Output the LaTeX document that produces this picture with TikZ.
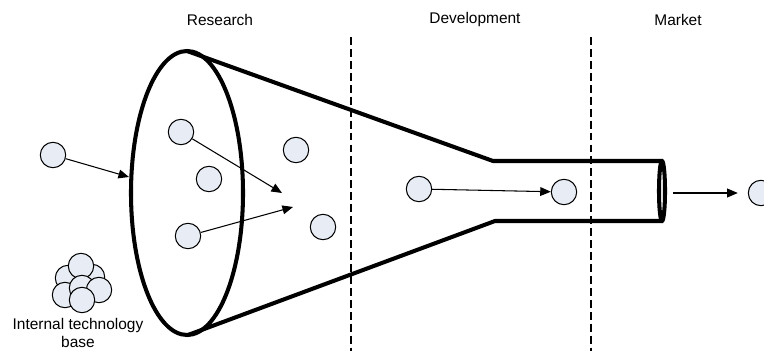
\documentclass[tikz,border=0pt]{standalone}
\usepackage{fontspec}
\setmainfont{Liberation Sans}
\usetikzlibrary{arrows.meta}
\definecolor{dotfill}{HTML}{E8EDF5}
\tikzset{
  dot/.style={circle,draw,fill=dotfill,line width=0.6pt,minimum size=0.508cm,inner sep=0pt},
  arr/.style={-{Triangle[length=6pt,width=5pt]},line width=0.6pt},
  funnel/.style={line width=2.3pt,line join=round},
  stage/.style={font=\fontsize{8.8}{10.4}\selectfont,inner sep=0pt}
}
\begin{document}
\begin{tikzpicture}[x=0.02cm,y=-0.02cm]
        \useasboundingbox (0,0) rectangle (764,351);

        % Stage boundaries
        \draw[line width=0.85pt,dash pattern=on 4.5pt off 2.3pt] (351,37) -- (351,351);
        \draw[line width=0.85pt,dash pattern=on 4.5pt off 2.3pt] (591,37) -- (591,351);
        \node[stage] (research) at (220,20) {Research};
        \node[stage] (development) at (475,20) {Development};
        \node[stage] (market) at (678,20) {Market};

        % Funnel
        \draw[funnel] (187,193) ellipse [x radius=56,y radius=142];
        \draw[funnel] (187,51) -- (493,161) -- (663,161);
        \draw[funnel] (188,335) -- (495,221) -- (663,221);
        \draw[funnel] (662,191) ellipse [x radius=3,y radius=30];

        % Ideas
        \node[dot] (o1) at (53,155) {};
        \node[dot] (r1) at (181,132) {};
        \node[dot] (r2) at (209,179) {};
        \node[dot] (r3) at (188,236) {};
        \node[dot] (r4) at (296,150) {};
        \node[dot] (r5) at (323,227) {};
        \node[dot] (d1) at (419,189) {};
        \node[dot] (d2) at (564,192) {};
        \node[dot] (mk) at (761,193) {};

        % Flows
        \coordinate (mouth) at (129,177);
        \coordinate (t1) at (282,193);
        \coordinate (t2) at (293,207);
        \coordinate (tubeout) at (673,193);
        \draw[arr] (o1) -- (mouth);
        \draw[arr] (r1) -- (t1);
        \draw[arr] (r3) -- (t2);
        \draw[arr] (d1) -- (d2);
        \draw[arr,shorten >=0.2cm] (tubeout) -- (mk);

        % Internal technology base
        \node[dot] (b1) at (92,277) {};
        \node[dot] (b2) at (68,278) {};
        \node[dot] (b3) at (81,266) {};
        \node[dot] (b4) at (65,295) {};
        \node[dot] (b5) at (82,288) {};
        \node[dot] (b6) at (99,290) {};
        \node[dot] (b7) at (82,300) {};
        \node[stage,align=center] (base) at (78,333) {Internal technology\\base};
\end{tikzpicture}
\end{document}
